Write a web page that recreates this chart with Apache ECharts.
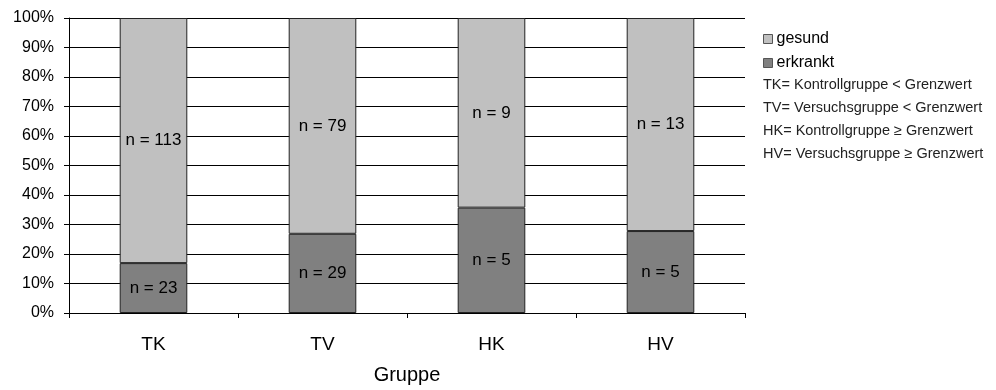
<!DOCTYPE html>
<html><head><meta charset="utf-8">
<script src="https://cdn.jsdelivr.net/npm/echarts@6/dist/echarts.min.js"></script>
<style>html,body{margin:0;padding:0;background:#fff}#c{width:996px;height:390px}</style>
</head><body><div id="c"></div>
<script>
const categories = ['TK', 'TV', 'HK', 'HV'];
const erkranktN = [23, 29, 5, 5];
const gesundN = [113, 79, 9, 13];
const yTicks = [0, 10, 20, 30, 40, 50, 60, 70, 80, 90, 100];
const notes = [
  'TK= Kontrollgruppe < Grenzwert',
  'TV= Versuchsgruppe < Grenzwert',
  'HK= Kontrollgruppe \u2265 Grenzwert',
  'HV= Versuchsgruppe \u2265 Grenzwert'
];

const totals = erkranktN.map((v, i) => v + gesundN[i]);
const erkPct = erkranktN.map((v, i) => v / totals[i] * 100);
const gesPct = gesundN.map((v, i) => v / totals[i] * 100);

const font = 'Arial, "Liberation Sans", sans-serif';
const chart = echarts.init(document.getElementById('c'), null, {renderer: 'canvas'});
const lbl = (arr) => ({
  show: true, position: 'inside', color: '#000', fontSize: 17, fontFamily: font,
  formatter: p => 'n = ' + arr[p.dataIndex]
});
chart.setOption({
  animation: false,
  backgroundColor: '#fff',
  grid: {left: 69, right: 251, top: 18, bottom: 72},
  legend: {
    orient: 'vertical', left: 758, top: 26, itemGap: 8,
    icon: 'rect', itemWidth: 9, itemHeight: 9,
    data: ['gesund', 'erkrankt'],
    itemStyle: {borderColor: '#555', borderWidth: 1},
    textStyle: {fontSize: 16, fontFamily: font, color: '#000', padding: [0, 0, 0, -1]}
  },
  xAxis: {
    type: 'category', data: categories,
    name: 'Gruppe', nameLocation: 'middle', nameGap: 52,
    nameTextStyle: {fontSize: 20, fontFamily: font, color: '#000'},
    axisLine: {lineStyle: {color: '#000', width: 1}},
    axisTick: {show: true, length: 5, lineStyle: {color: '#000'}},
    axisLabel: {fontSize: 19, fontFamily: font, color: '#000', margin: 22}
  },
  yAxis: {
    type: 'value', min: 0, max: 100, interval: 10,
    axisLine: {show: true, lineStyle: {color: '#000', width: 1}},
    axisTick: {show: true, length: 5, lineStyle: {color: '#000'}},
    axisLabel: {fontSize: 16, fontFamily: font, color: '#000', margin: 15,
      formatter: v => yTicks.includes(v) ? v + '%' : ''},
    splitLine: {show: true, lineStyle: {color: '#000', width: 1}}
  },
  series: [
    {name: 'erkrankt', type: 'bar', stack: 's', barWidth: '40%', data: erkPct,
     itemStyle: {color: '#808080', borderColor: '#222', borderWidth: 1}, label: lbl(erkranktN)},
    {name: 'gesund', type: 'bar', stack: 's', barWidth: '40%', data: gesPct,
     itemStyle: {color: '#C0C0C0', borderColor: '#222', borderWidth: 1}, label: lbl(gesundN)}
  ],
  graphic: notes.map((t, i) => ({
    type: 'text', left: 763, top: 77 + i * 23,
    style: {text: t, fontSize: 14.5, fontFamily: font, fill: '#222'}
  }))
});
</script></body></html>
